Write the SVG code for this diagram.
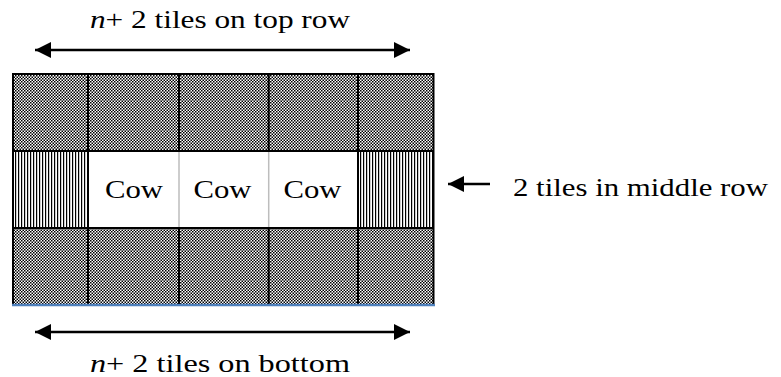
<svg xmlns="http://www.w3.org/2000/svg" width="781" height="377" viewBox="0 0 781 377">
<style>
.t{font-family:"Liberation Serif","Times New Roman",serif;font-size:25px;fill:#000}
.cow{font-family:"Liberation Serif","Times New Roman",serif;font-size:26px;fill:#000;text-anchor:middle}
.dark{fill:url(#checker)}
.vert{fill:url(#vlines)}
.b{stroke:#000;stroke-width:2;fill:none}
.g{stroke:#bdbdbd;stroke-width:1.5}
.arr{stroke:#000;stroke-width:2.5;fill:none}
</style>
<defs>
<pattern id="checker" width="3" height="3" patternUnits="userSpaceOnUse">
<rect width="3" height="3" fill="#fff"/>
<rect x="0" y="0" width="1.5" height="1.5" fill="#000"/>
<rect x="1.5" y="1.5" width="1.5" height="1.5" fill="#000"/>
</pattern>
<pattern id="vlines" width="3" height="3" patternUnits="userSpaceOnUse">
<rect width="3" height="3" fill="#fff"/>
<rect x="0" y="0" width="1.2" height="3" fill="#000"/>
</pattern>
<marker id="ah" viewBox="0 0 10 10" refX="10" refY="5" markerWidth="6.5" markerHeight="6.5" orient="auto-start-reverse" markerUnits="strokeWidth">
<path d="M0,0 L10,5 L0,10 Z" fill="#000"/>
</marker>
</defs>
<g id="top-row">
<rect class="dark" x="13" y="74" width="420.5" height="77"/>
</g>
<g id="middle-row">
<rect class="vert" x="13" y="151" width="75" height="77"/>
<rect x="88" y="151" width="270" height="77" fill="#fff"/>
<rect class="vert" x="358" y="151" width="75.5" height="77"/>
<line class="g" x1="179" y1="151" x2="179" y2="228"/>
<line class="g" x1="268.7" y1="151" x2="268.7" y2="228"/>
<text class="cow" x="134" y="197.5" textLength="58" lengthAdjust="spacingAndGlyphs">Cow</text>
<text class="cow" x="222.5" y="197.5" textLength="58" lengthAdjust="spacingAndGlyphs">Cow</text>
<text class="cow" x="312.5" y="197.5" textLength="58" lengthAdjust="spacingAndGlyphs">Cow</text>
</g>
<g id="bottom-row">
<rect class="dark" x="13" y="228" width="420.5" height="76"/>
</g>
<g id="grid">
<line class="b" x1="13" y1="74" x2="433.5" y2="74"/>
<line class="b" x1="13" y1="151" x2="433.5" y2="151"/>
<line class="b" x1="13" y1="228" x2="433.5" y2="228"/>
<line class="b" x1="13" y1="73" x2="13" y2="305"/>
<line class="b" x1="433.5" y1="73" x2="433.5" y2="305"/>
<line class="b" x1="88" y1="74" x2="88" y2="305"/>
<line class="b" x1="358" y1="74" x2="358" y2="305"/>
<line class="b" x1="179" y1="74" x2="179" y2="151"/>
<line class="b" x1="268.7" y1="74" x2="268.7" y2="151"/>
<line class="b" x1="179" y1="228" x2="179" y2="305"/>
<line class="b" x1="268.7" y1="228" x2="268.7" y2="305"/>
<line x1="12" y1="305" x2="435" y2="305" stroke="#4f81bd" stroke-width="2.5"/>
</g>
<g id="connectors">
<line class="arr" x1="35" y1="50" x2="410" y2="50" marker-start="url(#ah)" marker-end="url(#ah)"/>
<line class="arr" x1="35" y1="332" x2="410" y2="332" marker-start="url(#ah)" marker-end="url(#ah)"/>
<line class="arr" x1="490" y1="184" x2="448" y2="184" marker-end="url(#ah)"/>
</g>
<g id="labels">
<text class="t" x="90" y="28.3" textLength="260" lengthAdjust="spacingAndGlyphs"><tspan font-style="italic">n</tspan>+ 2 tiles on top row</text>
<text class="t" x="90" y="371.5" textLength="260" lengthAdjust="spacingAndGlyphs"><tspan font-style="italic">n</tspan>+ 2 tiles on bottom</text>
<text class="t" x="513" y="196" textLength="255" lengthAdjust="spacingAndGlyphs">2 tiles in middle row</text>
</g>
</svg>
